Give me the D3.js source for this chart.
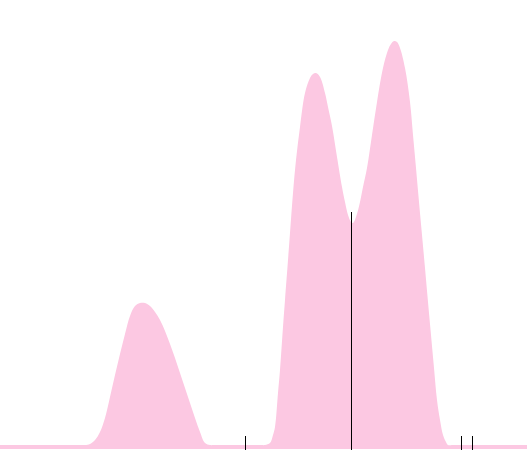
<!DOCTYPE html>
<html>
<head>
<meta charset="utf-8">
<script src="https://cdn.jsdelivr.net/npm/d3@7"></script>
<style>
  html, body { margin: 0; padding: 0; background: #fff; }
  svg { display: block; }
</style>
</head>
<body>
<svg id="chart" width="527" height="450"></svg>
<script>
// Density estimate sampled along the value axis
const xValues = [0, 1, 15, 16, 17, 18, 19, 20, 21, 22, 23, 24, 25, 26, 27, 28, 29, 30, 31, 32, 33, 34, 35, 36, 37, 38, 39, 40, 41, 42, 43,
  52, 53, 54, 54.6, 55, 55.6, 56, 56.6, 57, 57.6, 58, 58.6, 59.2, 60, 61, 62, 62.6, 63.2, 64, 65, 65.6, 66.4, 67.4, 68.4, 69, 69.6, 70.2, 70.6, 71.2, 72, 72.6, 73.4, 74.4, 75.4, 76.6, 77.6, 78.2, 78.8, 79.4, 80, 81, 82, 82.6, 83.2, 83.8, 84.4, 85, 85.6, 86.2, 86.8, 87.4, 88, 88.6, 89.2, 89.6, 90.6, 104.4, 105.4];
const density = [0, 0, 0, 0, 0, 0.1, 0.5, 1.3, 2.7, 4.8, 7.0, 9.1, 11.1, 12.9, 13.9, 14.2, 14.2, 13.9, 13.3, 12.5, 11.4, 10.1, 8.7, 7.2, 5.7, 4.2, 2.7, 1.3, 0.2, 0, 0,
  0, 0, 0.2, 1.0, 1.8, 5.2, 7.5, 11.8, 14.5, 18.5, 21.2, 25.2, 28.5, 31.8, 35.2, 36.7, 37.1, 37.2, 36.8, 35.2, 33.8, 31.9, 28.8, 25.8, 24.3, 23.0, 22.3, 22.2, 22.8, 24.3, 25.8, 27.7, 31.0, 34.3, 37.7, 39.5, 40.1, 40.4, 40.3, 39.7, 37.7, 34.3, 31.0, 27.7, 24.3, 21.0, 17.7, 14.3, 11.0, 7.7, 4.5, 2.5, 1.0, 0.3, 0, 0, 0, 0];

// Rug marks and summary line (value units)
const rugValues = [49.1, 92.3, 94.4];
const medianValue = 70.2;
const medianDensity = 23.3;

const width = 527, height = 450;
const svg = d3.select("#chart");

const x = d3.scaleLinear().domain([0, 105.4]).range([0, width]);
const y = d3.scaleLinear().domain([0, 44.5]).range([445, 0]);
const baseY = 449;

const area = d3.area()
  .x((d, i) => x(xValues[i]))
  .y0(baseY)
  .y1(d => y(d))
  .curve(d3.curveCatmullRom.alpha(0.5));

svg.append("path")
  .datum(density)
  .attr("d", area)
  .attr("fill", "#fcc8e2");

svg.selectAll("line.rug")
  .data(rugValues)
  .join("line")
  .attr("class", "rug")
  .attr("x1", d => Math.floor(x(d)) + 0.5)
  .attr("x2", d => Math.floor(x(d)) + 0.5)
  .attr("y1", 436)
  .attr("y2", height)
  .attr("stroke", "#000")
  .attr("stroke-width", 1);

svg.append("line")
  .attr("x1", Math.floor(x(medianValue)) + 0.5)
  .attr("x2", Math.floor(x(medianValue)) + 0.5)
  .attr("y1", y(medianDensity))
  .attr("y2", height)
  .attr("stroke", "#000")
  .attr("stroke-width", 1);
</script>
</body>
</html>
